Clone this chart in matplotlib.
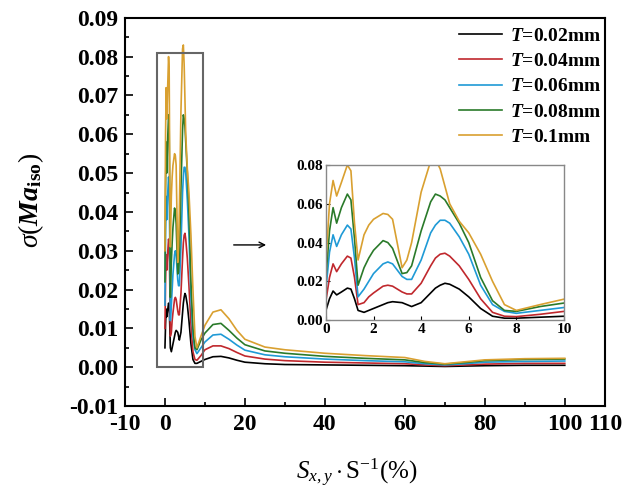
import matplotlib
matplotlib.use("Agg")
import matplotlib.pyplot as plt
from matplotlib.patches import Rectangle
from matplotlib.ticker import FormatStrFormatter, MultipleLocator

plt.rcParams['font.family'] = 'Liberation Serif'
plt.rcParams['font.weight'] = 'bold'
plt.rcParams['axes.unicode_minus'] = False
plt.rcParams['mathtext.fontset'] = 'custom'
plt.rcParams['mathtext.rm'] = 'Liberation Serif:regular'
plt.rcParams['mathtext.it'] = 'Liberation Serif:italic:regular'
plt.rcParams['mathtext.bf'] = 'Liberation Serif:bold'
plt.rcParams['mathtext.bfit'] = 'Liberation Serif:italic:bold'

# x positions (%)
x = [0, 0.15, 0.3, 0.45, 0.65, 0.9, 1.05, 1.2, 1.35, 1.6, 1.8, 2.0, 2.4, 2.6, 2.8,
     3.2, 3.4, 3.6, 4.0, 4.4, 4.6, 4.8, 5.0, 5.2, 5.6, 6.0, 6.5, 7.0, 7.5, 8.0, 9.0,
     10, 12, 14, 16, 18, 20, 25, 30, 40, 50, 60, 65, 70, 75, 80, 90, 100]

t002 = [0.005, 0.011, 0.015, 0.013, 0.0145, 0.0165, 0.016, 0.011, 0.005, 0.004, 0.005,
        0.006, 0.008, 0.009, 0.0095, 0.009, 0.008, 0.007, 0.009, 0.014, 0.0165, 0.018,
        0.019, 0.0185, 0.016, 0.012, 0.006, 0.002, 0.001, 0.001, 0.0015,
        0.002, 0.0027, 0.0028, 0.0024, 0.0018, 0.0013, 0.0009, 0.0007, 0.0006, 0.0005,
        0.0004, 0.0003, 0.0002, 0.0003, 0.0004, 0.0005, 0.0005]
t004 = [0.010, 0.022, 0.029, 0.025, 0.029, 0.033, 0.032, 0.022, 0.008, 0.009, 0.012,
        0.014, 0.0175, 0.018, 0.0175, 0.0145, 0.0135, 0.0135, 0.019, 0.028, 0.032, 0.034,
        0.0345, 0.033, 0.028, 0.021, 0.011, 0.004, 0.002, 0.0018, 0.003,
        0.0045, 0.0055, 0.0055, 0.0048, 0.0038, 0.0029, 0.0021, 0.0017, 0.0013, 0.0011,
        0.0009, 0.0006, 0.0004, 0.0006, 0.0008, 0.001, 0.001]
t006 = [0.016, 0.035, 0.044, 0.038, 0.044, 0.049, 0.047, 0.032, 0.012, 0.016, 0.020,
        0.024, 0.029, 0.030, 0.029, 0.0225, 0.021, 0.021, 0.031, 0.045, 0.049, 0.0515,
        0.0515, 0.050, 0.043, 0.034, 0.018, 0.008, 0.0045, 0.0035, 0.005,
        0.0065, 0.0083, 0.0085, 0.0072, 0.0057, 0.0044, 0.0032, 0.0027, 0.0021, 0.0017,
        0.0014, 0.0009, 0.0006, 0.0009, 0.0013, 0.0015, 0.0016]
t008 = [0.022, 0.046, 0.058, 0.050, 0.058, 0.065, 0.062, 0.042, 0.018, 0.027, 0.032,
        0.036, 0.041, 0.040, 0.037, 0.024, 0.0245, 0.028, 0.046, 0.061, 0.065, 0.064,
        0.062, 0.058, 0.050, 0.040, 0.022, 0.010, 0.005, 0.0045, 0.007,
        0.0088, 0.011, 0.0113, 0.0095, 0.0075, 0.0058, 0.0042, 0.0036, 0.0028, 0.0023,
        0.0019, 0.0012, 0.0008, 0.0012, 0.0017, 0.002, 0.0021]
t010 = [0.030, 0.060, 0.072, 0.064, 0.071, 0.080, 0.077, 0.050, 0.031, 0.044, 0.049,
        0.052, 0.055, 0.0545, 0.052, 0.027, 0.031, 0.040, 0.066, 0.082, 0.083, 0.078,
        0.069, 0.060, 0.051, 0.045, 0.034, 0.020, 0.008, 0.005, 0.008,
        0.0108, 0.0142, 0.0148, 0.0125, 0.0095, 0.0072, 0.0052, 0.0045, 0.0036, 0.0030,
        0.0025, 0.0015, 0.0009, 0.0014, 0.0019, 0.0022, 0.0023]

series = [t002, t004, t006, t008, t010]
labels = ['0.02mm', '0.04mm', '0.06mm', '0.08mm', '0.1mm']
colors = ['black', '#c0282d', '#1f9ad6', '#2a7a2a', '#d9a030']

fig = plt.figure(figsize=(6.28, 4.94), dpi=100)
ax = fig.add_axes([0.199, 0.178, 0.764, 0.786])

for y, lab, c in zip(series, labels, colors):
    ax.plot(x, y, color=c, lw=1.2, label=r'$\mathbfit{T}$=' + lab)

ax.set_xlim(-10, 110)
ax.set_ylim(-0.01, 0.09)
ax.set_xticks([-10, 0, 20, 40, 60, 80, 100, 110])
ax.set_xticks([10, 30, 50, 70, 90], minor=True)
ax.yaxis.set_major_locator(MultipleLocator(0.01))
ax.yaxis.set_minor_locator(MultipleLocator(0.005))
ax.yaxis.set_major_formatter(FormatStrFormatter('%.2f'))
ax.tick_params(which='both', direction='in', width=1.2, labelsize=17)
ax.tick_params(which='major', length=6)
ax.tick_params(which='minor', length=3)
ax.tick_params(axis='y', pad=5)
ax.tick_params(axis='x', pad=6)
for s in ax.spines.values():
    s.set_linewidth(1.5)

ax.set_ylabel(r'$\sigma(\mathbfit{Ma}_{\mathbf{iso}})$', fontsize=20)
ax.yaxis.set_label_coords(-0.165, 0.53)
ax.set_xlabel(r'$S_{x,y}\cdot\mathrm{S}^{-1}(\%)$', fontsize=18, fontweight='normal')
ax.xaxis.set_label_coords(0.483, -0.13)

# zoom box and arrow pointing to the inset
ax.add_patch(Rectangle((-2, 0), 11.5, 0.081, fill=False, ec='#666666', lw=1.5, zorder=5))
ax.annotate('', xy=(26, 0.0315), xytext=(16.5, 0.0315),
            arrowprops=dict(arrowstyle='->', color='black', lw=1))

ax.legend(loc='upper right', bbox_to_anchor=(1.0, 0.985), frameon=False, fontsize=14,
          handlelength=2.2, labelspacing=0.39, borderaxespad=0.1, borderpad=0.1,
          handletextpad=0.4)

ins = fig.add_axes([0.519, 0.352, 0.379, 0.314])
for y, c in zip(series, colors):
    ins.plot(x, y, color=c, lw=1.2)
ins.set_xlim(0, 10)
ins.set_ylim(0, 0.08)
ins.set_xticks([0, 2, 4, 6, 8, 10])
ins.set_yticks([0, 0.02, 0.04, 0.06, 0.08])
ins.yaxis.set_major_formatter(FormatStrFormatter('%.2f'))
ins.tick_params(direction='in', labelsize=11, length=3, width=0.8, pad=2)
for s in ins.spines.values():
    s.set_color('#888888')
    s.set_linewidth(1)

fig.savefig('out.png', dpi=100)
